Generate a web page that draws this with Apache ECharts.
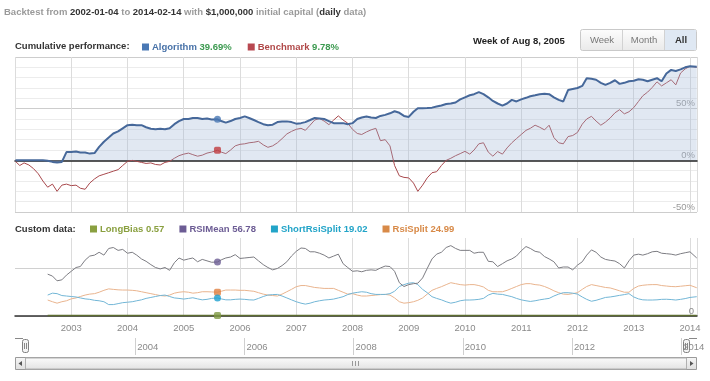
<!DOCTYPE html>
<html><head><meta charset="utf-8">
<script src="https://cdn.jsdelivr.net/npm/echarts@6/dist/echarts.min.js"></script>
<style>html,body{margin:0;padding:0;background:#fff}#c{width:710px;height:381px}</style>
</head><body><div id="c"></div>
<script>
// ---------- DATA ----------
const startDate = '2002-01-04', endDate = '2014-02-14', markerDate = '2005-08-08';
const N = null;
// monthly samples (first of month), Jan 2002 .. Feb 2014
const algorithm = [
  0,0,0,0,0,0,0,-0.5,-1.5,-2,-1.5,8,
  8,8.5,7.5,7.5,6.5,7,13,18,22,26,28,31,
  34,34.5,34,34,32,30.5,30,30.5,30,31,35,38,
  40,40,41,41,40,40.5,39.5,39.69,38,36.5,38,40,
  41,42.5,41,39,37,35,34,34.5,37,37.5,37.7,37,
  35.5,36,37,39,41,40.5,40,38,36,36,36,35,
  36,40,41.5,42.5,41.5,41,43,44,45.5,47.5,46,43,
  42,47,50.5,50.5,50.6,51,52,53,54.5,55,56,59,
  61,63,64,66,64,61,57.5,55,53,55,58.5,57,
  59,60.5,62,63,64,64.5,64,61,58.5,57,68,69,
  70,72,79.5,79,78,75,73,75,77.5,74,75,76.5,
  77,78.5,78,76.5,78,79.5,76.5,84,87.5,86.5,88,90,
  91,90.5
];
const benchmark = [
  -1,-5,-2.5,-4.5,-8,-13,-20,-26,-23,-30,-24,-23,
  -24.5,-24,-27,-28,-22,-18,-15,-13.5,-12,-10.5,-9,-5,
  -1,0,-1,-2,-3,-2.5,-4,-4.5,-2,-1,2,4.5,
  6,7,5.5,4,5,7,8,9.78,8,6.5,10,14,
  15.5,16,17,17.5,18.4,15,12.6,14,17,21,25.5,28,
  30,31,29,34,39,40.5,38,34.5,39,43,39,36,
  30,26,25,27.5,29.5,31,19,20,14,-5,-15,-16.5,
  -17,-22,-30,-24,-17,-12,-11,-5,0,2,4.5,6.5,
  8.7,6,10,16,17,8,4,8.5,6,12,17,21,
  25,29,31,34,32,29.5,34,22,17,16,23,24,
  27,35,40,42.6,38,34,37,41,46,49,45,47,
  51,57,62.5,66,70.5,76,72,75,78,73,84.5,88.5,
  91,90
];
const longBias = [
  N,N,N,N,N,N,N,0.6,0.6,0.6,0.6,0.6,
  0.6,0.6,0.6,0.6,0.6,0.6,0.6,0.6,0.6,0.6,0.6,0.6,
  0.6,0.6,0.6,0.6,0.6,0.6,0.6,0.6,0.6,0.6,0.6,0.6,
  0.6,0.6,0.6,0.6,0.6,0.6,0.6,0.57,0.6,0.6,0.6,0.6,
  0.6,0.6,0.6,0.6,0.6,0.6,0.6,0.6,0.6,0.6,0.6,0.6,
  0.6,0.6,0.6,0.6,0.6,0.6,0.6,0.6,0.6,0.6,0.6,0.6,
  0.6,0.6,0.6,0.6,0.6,0.6,0.6,0.6,0.6,0.6,0.6,0.6,
  0.6,0.6,0.6,0.6,0.6,0.6,0.6,0.6,0.6,0.6,0.6,0.6,
  0.6,0.6,0.6,0.6,0.6,0.6,0.6,0.6,0.6,0.6,0.6,0.6,
  0.6,0.6,0.6,0.6,0.6,0.6,0.6,0.6,0.6,0.6,0.6,0.6,
  0.6,0.6,0.6,0.6,0.6,0.6,0.6,0.6,0.6,0.6,0.6,0.6,
  0.6,0.6,0.6,0.6,0.6,0.6,0.6,0.6,0.6,0.6,0.6,0.6,
  0.6,0.6
];
const rsiMean = [
  N,N,N,N,N,N,N,44,42,37,38,43,
  47,51,52,58.7,63,64,67,64,71,72,69,70,
  66,67,64,60,57.5,54,51,49.5,51,48,56,61,
  58.7,60,61,57,59.5,58,56.5,56.78,59,61,62,64.5,
  60.5,61,61.5,62,58,54,51,48.5,50,53,57,63,
  68,71.5,71,67.5,67.5,66,64,61,63,65,55,51,
  47,47.5,46.5,48,48.5,48,50.5,52.5,52,47,35,31,
  33,34,34.5,40,50,60,65,67,72,74,71,69,
  69,69,66,67,67,57.5,57,52,55,58,60,63,
  68.5,73,71,68,67,62.5,60,57,50.5,51.5,51.5,48.5,
  53.5,57,64,69.5,67,62,59.5,58.5,57.8,55,50.5,58,
  64,65,64,65.5,67.5,68,66,65.5,65,64,65.5,66.5,
  67.5,61
];
const shortRsiSplit = [
  N,N,N,N,N,N,N,22,24,23.5,21.5,21,
  20.5,20,19,18,17.5,16.5,16,15,12,12,13,14,
  14.5,15,16,17,18.5,19.5,20.5,21.5,22,20.5,19,18.5,
  17.8,18.5,19.2,18,17,17.5,18.5,19.02,18,17,17,17.5,
  17.8,17.5,17,16.8,18.5,20.5,22,22.5,22.7,21,19,17,
  15,13.5,12.5,13.5,15,16,16.8,17.2,17.8,19,20.3,22.5,
  24,24.8,25.5,25,23.5,22.7,22.7,22.7,23.5,26,31,33,
  34.5,35,33,28,24.5,20.3,18.5,17,15,13.5,14.5,16,
  16.8,16.8,17,17.5,18.5,22,23.8,23,22.7,21.5,20.3,18.5,
  17,16,15.3,16,17,17.8,18.5,21,23,24.5,24.5,24,
  23,20,17.5,15.5,16.5,18,19.5,20,20.8,21.7,22.5,23.5,
  20,18,17,16.8,16.8,17,17.5,17.6,17.3,16.8,17.5,18.3,
  19.5,20.3
];
const rsiSplit = [
  N,N,N,N,N,N,N,16.8,15,13.5,15,16,
  18,19,20.5,22,23,23.5,25,27,28.5,28,27.5,27.3,
  27.3,27,26.5,25.5,24.5,23.5,22.5,21.5,21,22,24,25,
  25.5,25,24,24.5,25.5,25.5,25.3,24.99,26,27.3,27.3,27.3,
  27,27,26.5,26,24.5,23,22,21.5,21,23,25.5,28,
  30.8,32,32,31,30,29.5,29,29,29,27,25,23,
  23.5,22,21,21,21.5,22,22.5,22.7,22,19,15,13.5,
  14,15,16.5,19,23,27,29,30.8,33,35,34,33,
  32.5,33,33,32,30.5,27,25.5,25.5,25.5,27,29,31,
  33,34,34,33,32.5,31,29,26.5,24.5,23,22.7,23.5,
  24.5,28,31,33,32,31,30,29.5,28,26.5,25,25,
  29,31.5,32.3,32.8,33,33,32,31.5,31,30.8,31.3,31.8,
  32.3,29.7
];
const perfTicks = [-50, 0, 50];
const customTicks = [0];

// ---------- dates ----------
const dates = [];
for (let y = 2002; y <= 2014; y++) {
  for (let m = 1; m <= 12; m++) {
    if (y === 2014 && m > 2) break;
    dates.push(y + '-' + String(m).padStart(2, '0') + '-01');
  }
}
dates[0] = startDate;
dates[dates.length - 1] = endDate;
const mi = dates.indexOf('2005-08-01');
dates[mi] = markerDate;
function toYear(s) {
  const [y, m, d] = s.split('-').map(Number);
  const a = Date.UTC(y, 0, 1), b = Date.UTC(y + 1, 0, 1);
  return y + (Date.UTC(y, m - 1, d) - a) / (b - a);
}
const xs = dates.map(toYear);
const pairs = arr => arr.map((v, i) => [xs[i], v]);

// ---------- style ----------
const FONT = 'Liberation Sans, Arial, sans-serif';
const FS = 9.5;
const C = {
  algo: '#46689a', algoIcon: '#4a78b4', bench: '#a8484c', benchIcon: '#b84850', green: '#3c9a50',
  lb: '#8aa040', lbLine: '#5d6d30', rm: '#6c5c94', rmLine: '#7c7c82',
  ss: '#22a4c8', ssLine: '#72b6d6', rs: '#d88a48', rsLine: '#e9b48e'
};
const X0 = 2002, X1 = 2014.125;

const fmtTop = {
  Algorithm: '{alN|Algorithm} {gV|' + algorithm[mi].toFixed(2) + '%}',
  Benchmark: '{beN|Benchmark} {gV|' + benchmark[mi].toFixed(2) + '%}'
};
const fmtBot = {
  LongBias: '{lb|LongBias ' + longBias[mi].toFixed(2) + '}',
  RSIMean: '{rm|RSIMean ' + rsiMean[mi].toFixed(2) + '}',
  ShortRsiSplit: '{ss|ShortRsiSplit ' + shortRsiSplit[mi].toFixed(2) + '}',
  RsiSplit: '{rs|RsiSplit ' + rsiSplit[mi].toFixed(2) + '}'
};
const bold = c => ({ color: c, fontWeight: 'bold', fontSize: FS, fontFamily: FONT });

const grad = (a, b) => new echarts.graphic.LinearGradient(0, 0, 0, 1, [{ offset: 0, color: a }, { offset: 1, color: b }]);

const chart = echarts.init(document.getElementById('c'), null, { renderer: 'canvas' });
const option = {
  animation: false,
  textStyle: { fontFamily: FONT },
  title: [
    {
      left: 4, top: 7, padding: 0,
      text: '{n|Backtest from }{b|' + startDate + '}{n| to }{b|' + endDate + '}{n| with }{b|$1,000,000}{n| initial capital (}{b|daily}{n| data)}',
      textStyle: { fontSize: FS, rich: { n: { color: '#9a9a9a', fontSize: FS, fontFamily: FONT }, b: bold('#333') } }
    },
    { left: 15, top: 41.5, padding: 0, text: 'Cumulative performance:', textStyle: bold('#333') },
    { left: 473, top: 36, padding: 0, text: 'Week of Aug 8, 2005', textStyle: bold('#222') },
    { left: 15, top: 224, padding: 0, text: 'Custom data:', textStyle: bold('#333') }
  ],
  legend: [
    {
      left: 142, top: 42, icon: 'rect', itemWidth: 7, itemHeight: 7, itemGap: 16, padding: 0,
      selectedMode: false,
      data: [
        { name: 'Algorithm', itemStyle: { color: C.algoIcon } },
        { name: 'Benchmark', itemStyle: { color: C.benchIcon } }
      ],
      formatter: n => fmtTop[n],
      textStyle: { fontSize: FS, padding: [0, 0, 0, -2], rich: { alN: bold('#4872a8'), beN: bold('#b04848'), gV: bold(C.green) } }
    },
    {
      left: 90, top: 224, icon: 'rect', itemWidth: 7, itemHeight: 7, itemGap: 15, padding: 0,
      selectedMode: false,
      data: [
        { name: 'LongBias', itemStyle: { color: C.lb } },
        { name: 'RSIMean', itemStyle: { color: C.rm } },
        { name: 'ShortRsiSplit', itemStyle: { color: C.ss } },
        { name: 'RsiSplit', itemStyle: { color: C.rs } }
      ],
      formatter: n => fmtBot[n],
      textStyle: { fontSize: FS, padding: [0, 0, 0, -2], rich: { lb: bold(C.lb), rm: bold(C.rm), ss: bold(C.ss), rs: bold(C.rs) } }
    }
  ],
  grid: [
    { left: 15, right: 13, top: 57, height: 155 },
    { left: 15, right: 13, top: 238, height: 78 },
    { left: 26, right: 22, top: 338, height: 17 }
  ],
  xAxis: [
    {
      type: 'value', gridIndex: 0, min: X0, max: X1, interval: 1,
      axisLabel: { show: false }, axisTick: { show: false },
      axisLine: { onZero: true, lineStyle: { color: '#222', width: 1.5 } },
      splitLine: { show: true, lineStyle: { color: '#dcdcdc' } }
    },
    {
      type: 'value', gridIndex: 1, min: X0, max: X1, interval: 1,
      axisTick: { show: false },
      axisLine: { onZero: true, lineStyle: { color: '#333', width: 1.5 } },
      axisLabel: {
        color: '#8a8a8a', fontSize: FS, margin: 7, showMinLabel: false, showMaxLabel: false,
        formatter: v => (Number.isInteger(v) && v > X0) ? String(v) : ''
      },
      splitLine: { show: true, showMinLine: false, lineStyle: { color: '#dcdcdc' } }
    },
    {
      type: 'value', gridIndex: 2, min: X0, max: X1, interval: 2,
      axisTick: { show: false }, axisLine: { show: false },
      axisLabel: {
        inside: true, align: 'left', color: '#8a8a8a', fontSize: FS, margin: 3,
        padding: [0, 0, 0, 2], showMinLabel: false, showMaxLabel: false,
        formatter: v => (Number.isInteger(v) && v % 2 === 0 && v > X0) ? String(v) : ''
      },
      splitLine: { show: true, showMinLine: false, showMaxLine: false, lineStyle: { color: '#cfcfcf' } }
    }
  ],
  yAxis: [
    {
      type: 'value', gridIndex: 0, position: 'right', min: -50, max: 100, interval: 50,
      axisLine: { show: false }, axisTick: { show: false },
      axisLabel: {
        inside: true, margin: 2, color: '#9a9a9a', fontSize: FS, verticalAlign: 'bottom',
        formatter: v => perfTicks.includes(v) ? v + '%' : ''
      },
      splitLine: { lineStyle: { color: '#cdcdcd' } },
      minorTick: { show: false, splitNumber: 5 },
      minorSplitLine: { show: true, lineStyle: { color: '#ececec' } }
    },
    {
      type: 'value', gridIndex: 1, position: 'right', min: 0, max: 82, interval: 50,
      axisLine: { show: false }, axisTick: { show: false },
      axisLabel: {
        inside: true, margin: 3, color: '#8a8a8a', fontSize: FS, verticalAlign: 'bottom',
        formatter: v => customTicks.includes(v) ? String(v) : ''
      },
      splitLine: { showMaxLine: false, lineStyle: { color: '#d0d0d0' } }
    },
    { type: 'value', gridIndex: 2, min: 0, max: 1, show: false }
  ],
  series: [
    {
      name: 'Benchmark', type: 'line', xAxisIndex: 0, yAxisIndex: 0, data: pairs(benchmark),
      showSymbol: false, lineStyle: { color: C.bench, width: 1 }, itemStyle: { color: C.benchIcon }, z: 3
    },
    {
      name: 'Algorithm', type: 'line', xAxisIndex: 0, yAxisIndex: 0, data: pairs(algorithm),
      showSymbol: false, lineStyle: { color: C.algo, width: 2 }, itemStyle: { color: C.algoIcon },
      areaStyle: { color: 'rgba(160,182,214,0.45)' }, z: 4
    },
    {
      name: 'RsiSplit', type: 'line', xAxisIndex: 1, yAxisIndex: 1, data: pairs(rsiSplit),
      showSymbol: false, lineStyle: { color: C.rsLine, width: 1 }, itemStyle: { color: C.rs }
    },
    {
      name: 'ShortRsiSplit', type: 'line', xAxisIndex: 1, yAxisIndex: 1, data: pairs(shortRsiSplit),
      showSymbol: false, lineStyle: { color: C.ssLine, width: 1 }, itemStyle: { color: C.ss }
    },
    {
      name: 'RSIMean', type: 'line', xAxisIndex: 1, yAxisIndex: 1, data: pairs(rsiMean),
      showSymbol: false, lineStyle: { color: C.rmLine, width: 1 }, itemStyle: { color: C.rm }
    },
    {
      name: 'LongBias', type: 'line', xAxisIndex: 1, yAxisIndex: 1, data: pairs(longBias),
      showSymbol: false, lineStyle: { color: C.lbLine, width: 1.5 }, itemStyle: { color: C.lb }
    },
    // selected-week markers
    { name: 'mkA', type: 'scatter', xAxisIndex: 0, yAxisIndex: 0, symbolSize: 7, z: 6, data: [[xs[mi], algorithm[mi]]], itemStyle: { color: C.algoIcon } },
    { name: 'mkB', type: 'scatter', xAxisIndex: 0, yAxisIndex: 0, symbol: 'roundRect', symbolSize: 7, z: 6, data: [[xs[mi], benchmark[mi]]], itemStyle: { color: '#c03c40' } },
    { name: 'mkR', type: 'scatter', xAxisIndex: 1, yAxisIndex: 1, symbolSize: 7, z: 6, data: [[xs[mi], rsiMean[mi]]], itemStyle: { color: C.rm } },
    { name: 'mkRS', type: 'scatter', xAxisIndex: 1, yAxisIndex: 1, symbol: 'roundRect', symbolSize: 7, z: 6, data: [[xs[mi], rsiSplit[mi]]], itemStyle: { color: '#e08040' } },
    { name: 'mkSS', type: 'scatter', xAxisIndex: 1, yAxisIndex: 1, symbolSize: 7, z: 6, data: [[xs[mi], shortRsiSplit[mi]]], itemStyle: { color: '#1ea0d0' } },
    { name: 'mkLB', type: 'scatter', xAxisIndex: 1, yAxisIndex: 1, symbol: 'roundRect', symbolSize: 7, z: 6, data: [[xs[mi], longBias[mi]]], itemStyle: { color: '#7f9a44' } }
  ],
  graphic: [
    // range buttons
    { type: 'rect', shape: { x: 580.5, y: 29.5, width: 116, height: 21, r: 2 }, style: { fill: grad('#fdfdfd', '#e9e9e9'), stroke: '#c9c9c9' } },
    { type: 'rect', shape: { x: 665, y: 30, width: 31, height: 20 }, style: { fill: '#dfe8f3' } },
    { type: 'line', shape: { x1: 622.5, y1: 30, x2: 622.5, y2: 50 }, style: { stroke: '#d2d2d2' } },
    { type: 'line', shape: { x1: 664.5, y1: 30, x2: 664.5, y2: 50 }, style: { stroke: '#d2d2d2' } },
    { type: 'text', x: 602, y: 40, style: { text: 'Week', fill: '#777', font: FS + 'px ' + FONT, textAlign: 'center', textVerticalAlign: 'middle' } },
    { type: 'text', x: 644, y: 40, style: { text: 'Month', fill: '#777', font: FS + 'px ' + FONT, textAlign: 'center', textVerticalAlign: 'middle' } },
    { type: 'text', x: 681, y: 40, style: { text: 'All', fill: '#333', font: 'bold ' + FS + 'px ' + FONT, textAlign: 'center', textVerticalAlign: 'middle' } },
    // navigator handles
    { type: 'polyline', shape: { points: [[15, 338.5], [23, 338.5]] }, style: { stroke: '#888', fill: null } },
    { type: 'rect', shape: { x: 22.5, y: 339.5, width: 6, height: 13, r: 2 }, style: { fill: '#f4f4f4', stroke: '#808080' } },
    { type: 'line', shape: { x1: 24.5, y1: 343, x2: 24.5, y2: 349 }, style: { stroke: '#888' } },
    { type: 'line', shape: { x1: 26.5, y1: 343, x2: 26.5, y2: 349 }, style: { stroke: '#888' } },
    { type: 'polyline', shape: { points: [[689, 338.5], [697, 338.5]] }, style: { stroke: '#888', fill: null } },
    { type: 'rect', shape: { x: 683.5, y: 339.5, width: 6, height: 13, r: 2 }, style: { fill: '#f4f4f4', stroke: '#808080' } },
    { type: 'line', shape: { x1: 685.5, y1: 343, x2: 685.5, y2: 349 }, style: { stroke: '#888' } },
    { type: 'line', shape: { x1: 687.5, y1: 343, x2: 687.5, y2: 349 }, style: { stroke: '#888' } },
    // scrollbar
    { type: 'rect', shape: { x: 15.5, y: 357.5, width: 681, height: 12 }, style: { fill: grad('#f7f7f7', '#dedede'), stroke: '#9a9a9a' } },
    { type: 'rect', shape: { x: 25.5, y: 358, width: 661, height: 11 }, style: { fill: grad('#fbfbfb', '#e2e2e2'), stroke: '#b0b0b0' } },
    { type: 'polygon', shape: { points: [[18.5, 363.5], [22, 361], [22, 366]] }, style: { fill: '#555' } },
    { type: 'polygon', shape: { points: [[693.5, 363.5], [690, 361], [690, 366]] }, style: { fill: '#555' } },
    { type: 'line', shape: { x1: 352.5, y1: 361, x2: 352.5, y2: 366 }, style: { stroke: '#999' } },
    { type: 'line', shape: { x1: 355.5, y1: 361, x2: 355.5, y2: 366 }, style: { stroke: '#999' } },
    { type: 'line', shape: { x1: 358.5, y1: 361, x2: 358.5, y2: 366 }, style: { stroke: '#999' } }
  ]
};
chart.setOption(option);
</script></body></html>
